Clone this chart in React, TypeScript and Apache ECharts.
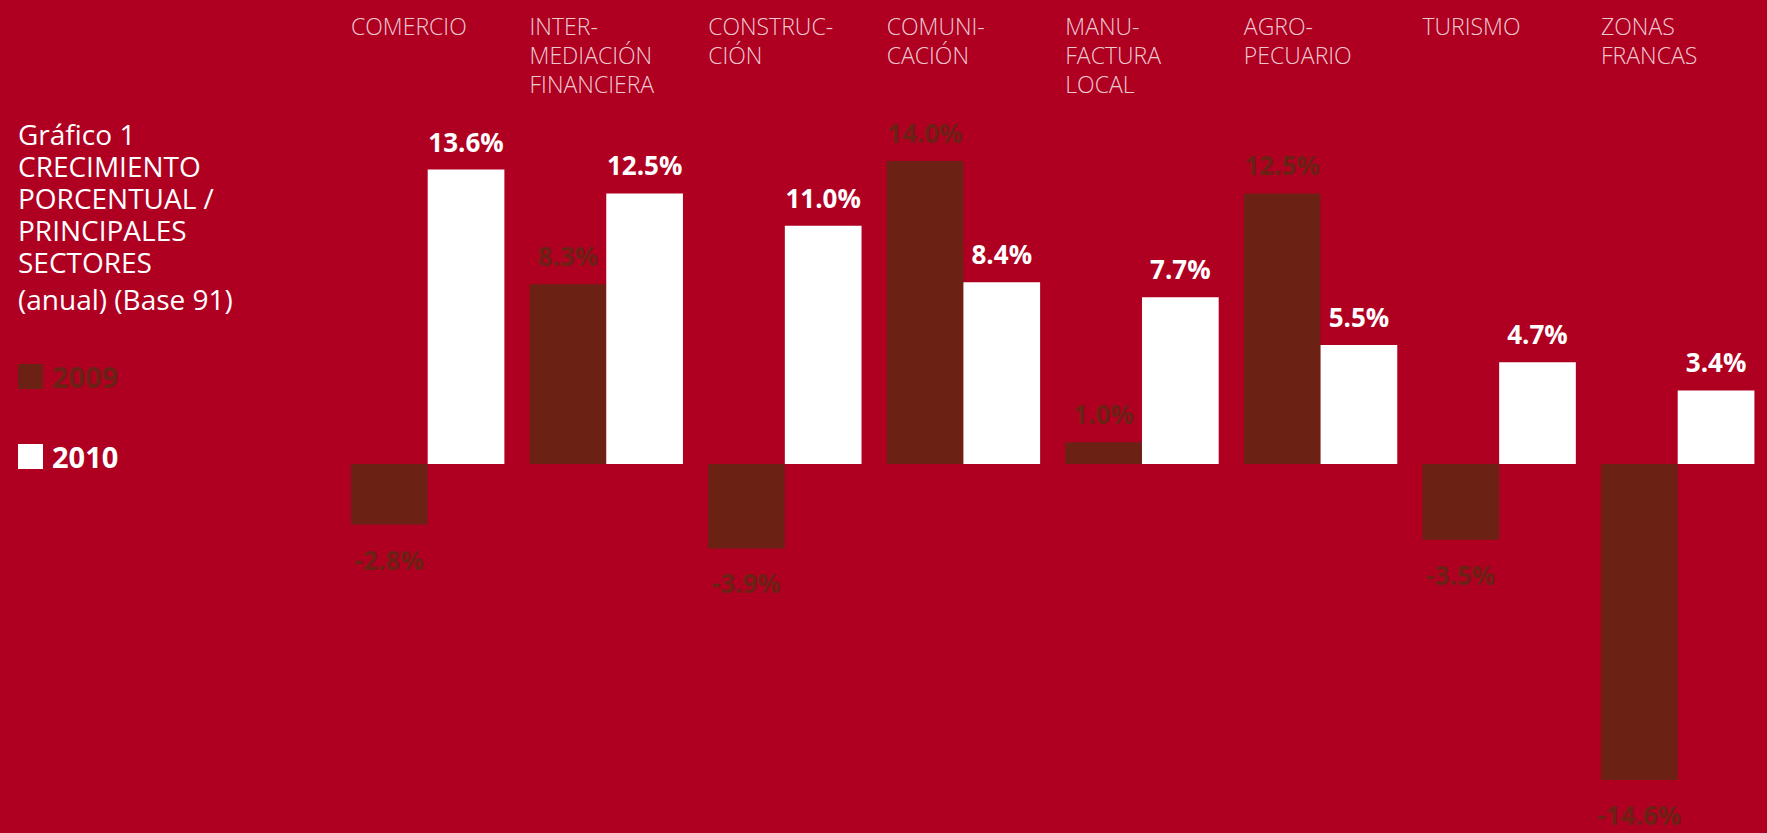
import React, { useEffect, useRef } from "react";
import * as echarts from "echarts";

const categories = [
  "COMERCIO",
  "INTER-\nMEDIACIÓN\nFINANCIERA",
  "CONSTRUC-\nCIÓN",
  "COMUNI-\nCACIÓN",
  "MANU-\nFACTURA\nLOCAL",
  "AGRO-\nPECUARIO",
  "TURISMO",
  "ZONAS\nFRANCAS",
];
const seriesNames = ["2009", "2010"];
const values2009 = [-2.8, 8.3, -3.9, 14.0, 1.0, 12.5, -3.5, -14.6];
const values2010 = [13.6, 12.5, 11.0, 8.4, 7.7, 5.5, 4.7, 3.4];
const titleText = "Gráfico 1\nCRECIMIENTO\nPORCENTUAL /\nPRINCIPALES\nSECTORES";
const subtitleText = "(anual) (Base 91)";
const axisMin = -16;
const axisMax = 16;

const BG = "#B00022";
const DARK = "#6B2114";
const WHITE = "#FFFFFF";
const FONT = "'Open Sans', 'Noto Sans', sans-serif";

export default function App() {
  const ref = useRef<HTMLDivElement>(null);

  useEffect(() => {
    document.body.style.margin = "0";
    document.body.style.background = BG;
    if (!ref.current) return;
    const chart = echarts.init(ref.current, undefined, { renderer: "svg" });

    const fmt = (p: any) => Number(p.value).toFixed(1) + "%";
    const mkData = (vals: number[]) =>
      vals.map((v) => ({
        value: v,
        label: { position: v < 0 ? "bottom" : "top", distance: v < 0 ? 22 : 15 },
      }));

    const barLabel = (color: string) => ({
      show: true,
      formatter: fmt,
      color,
      fontFamily: FONT,
      fontWeight: "bold" as const,
      fontSize: 26,
      lineHeight: 26,
    });

    chart.setOption({
      animation: false,
      backgroundColor: BG,
      title: {
        text: titleText,
        subtext: subtitleText,
        left: 18,
        top: 118,
        padding: 0,
        itemGap: 5,
        textStyle: {
          color: WHITE,
          fontFamily: FONT,
          fontWeight: "normal",
          fontSize: 28,
          lineHeight: 32,
        },
        subtextStyle: {
          color: WHITE,
          fontFamily: FONT,
          fontWeight: "normal",
          fontSize: 28,
          lineHeight: 32,
        },
      },
      legend: {
        orient: "vertical",
        left: 18,
        top: 362,
        padding: 0,
        itemWidth: 25,
        itemHeight: 25,
        itemGap: 51,
        icon: "rect",
        selectedMode: false,
        data: [
          { name: seriesNames[0], textStyle: { color: DARK } },
          { name: seriesNames[1], textStyle: { color: WHITE } },
        ],
        textStyle: {
          fontFamily: FONT,
          fontWeight: "bold",
          fontSize: 29,
          lineHeight: 25,
          padding: [0, 0, 0, 4],
        },
      },
      grid: {
        left: 338.4,
        width: 1438.4,
        top: 117.6,
        height: 692.8,
        containLabel: false,
      },
      xAxis: {
        type: "category",
        data: categories,
        show: false,
      },
      yAxis: {
        type: "value",
        min: axisMin,
        max: axisMax,
        show: false,
        splitLine: { show: false },
      },
      series: [
        {
          name: seriesNames[0],
          type: "bar",
          data: mkData(values2009),
          barWidth: 76.7,
          barGap: "0%",
          itemStyle: { color: DARK },
          label: barLabel(DARK),
        },
        {
          name: seriesNames[1],
          type: "bar",
          data: mkData(values2010),
          barWidth: 76.7,
          barGap: "0%",
          itemStyle: { color: WHITE },
          label: barLabel(WHITE),
        },
        {
          name: "categorias",
          type: "scatter",
          data: categories.map((c) => [c, axisMax]),
          symbolSize: 0.01,
          silent: true,
          itemStyle: { color: "transparent" },
          label: {
            show: true,
            position: "inside",
            align: "left",
            verticalAlign: "top",
            offset: [-76.7, -105.9],
            formatter: (p: any) => categories[p.dataIndex],
            color: WHITE,
            fontFamily: FONT,
            fontWeight: 300,
            fontSize: 23,
            lineHeight: 29,
          },
        },
      ],
    });

    return () => chart.dispose();
  }, []);

  return <div ref={ref} style={{ width: 1767, height: 833 }} />;
}
